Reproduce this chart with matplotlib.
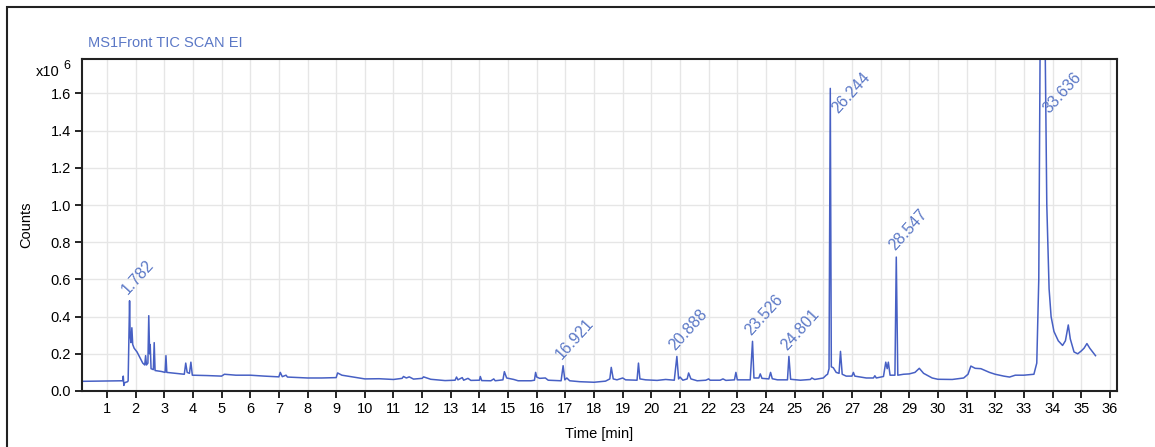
import matplotlib
matplotlib.use("Agg")
import matplotlib.pyplot as plt
from matplotlib.patches import Rectangle

# chromatogram trace, time [min] and counts [x10^6]
time_min = [
    0.13, 1.0, 1.55, 1.57, 1.59, 1.62, 1.72, 1.74, 1.77, 1.79, 1.81, 1.84, 1.87, 1.90,
    1.95, 2.05, 2.15, 2.25, 2.32, 2.35, 2.38, 2.43, 2.46, 2.49, 2.51, 2.54, 2.62, 2.65,
    2.68, 2.9, 3.03, 3.06, 3.09, 3.4, 3.7, 3.75, 3.8, 3.88, 3.93, 3.98, 4.5, 5.0, 5.1,
    5.5, 6.0, 6.5, 7.0, 7.05, 7.12, 7.25, 7.3, 8.0, 8.5, 9.0, 9.05, 9.2, 9.6, 10.0,
    10.5, 11.0, 11.3, 11.35, 11.45, 11.55, 11.7, 12.0, 12.05, 12.3, 12.8, 13.15, 13.2,
    13.25, 13.4, 13.45, 13.6, 13.7, 14.0, 14.03, 14.08, 14.4, 14.5, 14.55, 14.82, 14.87,
    14.95, 15.2, 15.35, 15.8, 15.92, 15.96, 16.0, 16.1, 16.3, 16.4, 16.85, 16.92, 16.98,
    17.05, 17.15, 17.5, 18.0, 18.4, 18.55, 18.6, 18.67, 18.8, 19.0, 19.1, 19.5, 19.55,
    19.6, 19.8, 20.2, 20.5, 20.8, 20.89, 20.95, 21.0, 21.1, 21.25, 21.3, 21.38, 21.6,
    21.9, 22.0, 22.05, 22.4, 22.5, 22.6, 22.9, 22.95, 23.0, 23.45, 23.53, 23.58, 23.75,
    23.8, 23.86, 24.1, 24.16, 24.22, 24.4, 24.75, 24.8, 24.86, 25.2, 25.55, 25.6, 25.7,
    26.0, 26.1, 26.15, 26.2, 26.244, 26.28, 26.35, 26.45, 26.55, 26.6, 26.66, 26.8,
    27.0, 27.05, 27.1, 27.5, 27.75, 27.8, 27.85, 28.1, 28.18, 28.23, 28.27, 28.33, 28.5,
    28.547, 28.6, 28.8, 29.0, 29.2, 29.35, 29.5, 29.8, 30.0, 30.5, 30.9, 31.05, 31.15,
    31.3, 31.5, 31.8, 32.0, 32.3, 32.5, 32.7, 33.0, 33.35, 33.45, 33.52, 33.58, 33.72,
    33.8, 33.88, 33.95, 34.05, 34.2, 34.35, 34.45, 34.55, 34.62, 34.75, 34.88, 35.0,
    35.1, 35.2, 35.3, 35.5,
]
counts = [
    0.052, 0.054, 0.055, 0.08, 0.03, 0.045, 0.05, 0.055, 0.32, 0.485, 0.30, 0.26, 0.34, 0.25,
    0.23, 0.21, 0.18, 0.15, 0.14, 0.19, 0.14, 0.15, 0.405, 0.2, 0.25, 0.12, 0.115, 0.26,
    0.11, 0.105, 0.1, 0.19, 0.1, 0.095, 0.09, 0.15, 0.1, 0.095, 0.155, 0.085, 0.083, 0.08, 0.09,
    0.085, 0.085, 0.08, 0.076, 0.1, 0.077, 0.085, 0.075, 0.07, 0.07, 0.072, 0.097, 0.085, 0.075, 0.065,
    0.066, 0.062, 0.068, 0.078, 0.07, 0.076, 0.064, 0.068, 0.076, 0.063, 0.056, 0.058, 0.075,
    0.06, 0.072, 0.058, 0.068, 0.057, 0.058, 0.078, 0.056, 0.055, 0.065, 0.055, 0.06, 0.104,
    0.07, 0.062, 0.055, 0.055, 0.058, 0.1, 0.075, 0.068, 0.07, 0.058, 0.055, 0.136, 0.06,
    0.07, 0.055, 0.05, 0.047, 0.053, 0.065, 0.127, 0.065, 0.06, 0.07, 0.06, 0.058, 0.15,
    0.065, 0.06, 0.057, 0.062, 0.058, 0.186, 0.065, 0.075, 0.058, 0.065, 0.097, 0.065, 0.055,
    0.058, 0.065, 0.058, 0.058, 0.065, 0.057, 0.06, 0.1, 0.06, 0.06, 0.267, 0.07, 0.07,
    0.092, 0.068, 0.065, 0.1, 0.066, 0.06, 0.06, 0.186, 0.063, 0.058, 0.062, 0.07, 0.062,
    0.07, 0.085, 0.09, 0.12, 1.627, 0.13, 0.125, 0.1, 0.095, 0.213, 0.09, 0.08,
    0.08, 0.1, 0.08, 0.07, 0.07, 0.082, 0.07, 0.078, 0.155, 0.12, 0.155, 0.085, 0.085,
    0.72, 0.085, 0.09, 0.092, 0.1, 0.122, 0.095, 0.07, 0.063, 0.062, 0.07, 0.09, 0.134,
    0.122, 0.12, 0.1, 0.09, 0.08, 0.075, 0.085, 0.085, 0.09, 0.15, 0.6, 2.2, 2.2,
    1.0, 0.55, 0.4, 0.32, 0.27, 0.245, 0.27, 0.355, 0.28, 0.21, 0.2, 0.215,
    0.23, 0.255, 0.23, 0.19,
]

# labelled peaks
peak_names = ["1.782", "16.921", "20.888", "23.526", "24.801", "26.244", "28.547", "33.636"]
peak_times = [1.79, 16.92, 20.89, 23.53, 24.8, 26.244, 28.547, 33.636]
peak_heights = [0.485, 0.136, 0.186, 0.267, 0.186, 1.627, 0.72, 2.2]

xticks = list(range(1, 37))
yticks = [0.0, 0.2, 0.4, 0.6, 0.8, 1.0, 1.2, 1.4, 1.6]

plt.rcParams['font.family'] = ['Liberation Sans', 'DejaVu Sans']

W, H = 1155, 447
fig = plt.figure(figsize=(W / 100, H / 100), dpi=100)
ax = fig.add_axes([82 / W, 1 - 391 / H, (1117 - 82) / W, (391 - 59) / H])

line_col = '#4760c4'
text_col = '#5b78c6'

ax.plot(time_min, counts, color=line_col, lw=1.1)

# labels, tall peaks get pushed down/right like the instrument software does
for name, t, h in zip(peak_names, peak_times, peak_heights):
    if h > 1.0:
        tx, ty = t + 0.34, 1.48
    else:
        tx, ty = t + 0.03, h + 0.02
    ax.text(tx, ty, name, rotation=48, rotation_mode='anchor', ha='left', va='bottom',
            color=text_col, fontsize=11.5)

ax.set_xlim(0.13, 36.25)
ax.set_ylim(0, 1.785)
ax.set_xticks(xticks)
ax.set_yticks(yticks)
ax.set_yticklabels([f"{v:.1f}" for v in yticks])
ax.tick_params(axis='both', direction='out', length=5, width=1.2, labelsize=10.5, pad=3,
               colors='black')
ax.grid(True, color='#e6e6e6', lw=1.0)
ax.set_axisbelow(True)
for sp in ax.spines.values():
    sp.set_linewidth(1.5)
    sp.set_color('#222222')

ax.set_xlabel('Time [min]', fontsize=10.5, labelpad=8)
ax.set_ylabel('Counts', fontsize=10.5, labelpad=12)

fig.text(88 / W, 1 - 43 / H, 'MS1Front TIC SCAN EI', color=text_col, fontsize=10.5,
         ha='left', va='center')
fig.text(36 / W, 1 - 72 / H, 'x10', fontsize=10.5, ha='left', va='center')
fig.text(63 / W, 1 - 66 / H, '6', fontsize=9, ha='left', va='center')

# outer frame of the screenshot
fig.patches.append(Rectangle((7 / W, -0.2), 1.2, 1.2 - 7 / H, transform=fig.transFigure,
                             fill=False, ec='#222222', lw=1.5))

fig.savefig('out.png', dpi=100)
